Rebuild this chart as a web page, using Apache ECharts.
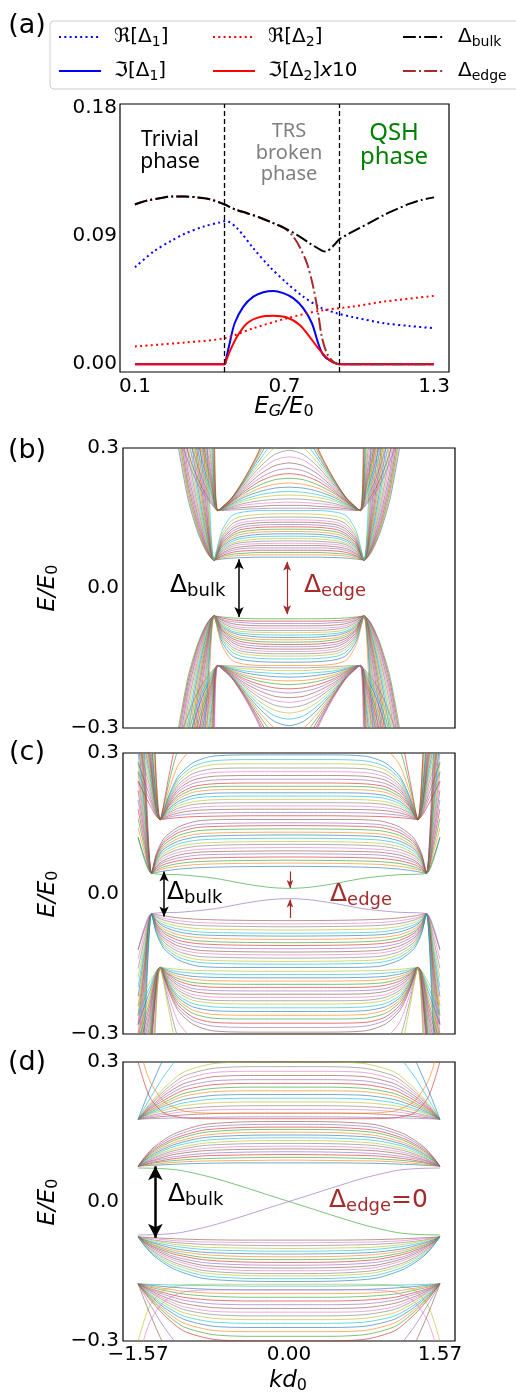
<!DOCTYPE html>
<html><head><meta charset="utf-8">
<script src="https://cdn.jsdelivr.net/npm/echarts@6/dist/echarts.min.js"></script>
<style>html,body{margin:0;padding:0;background:#fff}#c{width:516px;height:1395px}</style>
</head><body><div id="c"></div><script>
// ---------------- Panel (a) data ----------------
const xTicksA = [0.1, 0.7, 1.3];
const yTicksA = [0, 0.09, 0.18];
const phaseBoundaries = [0.46, 0.92];
const reDelta1 = [[0.1,0.068],[0.175,0.079],[0.25,0.087],[0.3,0.0915],[0.375,0.0965],[0.44,0.0994],[0.465,0.1005],[0.51,0.0953],[0.575,0.0813],[0.64,0.0684],[0.71,0.0568],[0.775,0.0474],[0.845,0.0397],[0.91,0.0357],[0.975,0.033],[1.1,0.0287],[1.2,0.0268],[1.3,0.0252]];
const imDelta1 = [[0.1,0],[0.46,0],[0.465,0.003],[0.48,0.0147],[0.5,0.0287],[0.535,0.0404],[0.575,0.0474],[0.615,0.0505],[0.655,0.0514],[0.695,0.0498],[0.735,0.0463],[0.775,0.0393],[0.81,0.0287],[0.835,0.0147],[0.855,0.0065],[0.885,0.0023],[0.92,0],[1.3,0]];
const reDelta2 = [[0.1,0.0124],[0.3,0.0152],[0.46,0.0182],[0.575,0.0252],[0.71,0.0322],[0.845,0.0376],[0.975,0.0404],[1.1,0.0439],[1.3,0.0479]];
const imDelta2x10 = [[0.1,0],[0.46,0],[0.465,0.002],[0.48,0.0088],[0.51,0.0194],[0.55,0.0287],[0.6,0.033],[0.655,0.034],[0.71,0.0327],[0.76,0.0276],[0.8,0.0194],[0.835,0.0112],[0.865,0.0053],[0.895,0.0012],[0.92,0],[1.3,0]];
const bulkGap = [[0.1,0.112],[0.15,0.1148],[0.2,0.1164],[0.25,0.1176],[0.3,0.1176],[0.35,0.117],[0.4,0.1157],[0.46,0.112],[0.5,0.1087],[0.55,0.1059],[0.6,0.1029],[0.65,0.0993],[0.7,0.0954],[0.75,0.0907],[0.8,0.0849],[0.85,0.0797],[0.865,0.079],[0.9,0.0837],[0.92,0.0876],[0.95,0.0907],[1.0,0.0954],[1.05,0.1],[1.1,0.1047],[1.15,0.1087],[1.2,0.1124],[1.25,0.1152],[1.3,0.117]];
const edgeGap = [[0.1,0.112],[0.15,0.1148],[0.2,0.1164],[0.25,0.1176],[0.3,0.1176],[0.35,0.117],[0.4,0.1157],[0.46,0.112],[0.5,0.1087],[0.55,0.1059],[0.6,0.1029],[0.65,0.0993],[0.7,0.0954],[0.735,0.0895],[0.76,0.0825],[0.79,0.0708],[0.815,0.0544],[0.835,0.0357],[0.85,0.019],[0.87,0.0077],[0.895,0.0018],[0.92,0],[1.0,0],[1.3,0]];

// ---------------- Band panels ----------------
const kTicks = [-1.57, 0, 1.57];
const eTicks = [-0.3, 0, 0.3];

// Panel (b): half curves (k >= 0), drawn mirrored in k
const kB1 = [0,0.3,0.5,0.6,0.7,0.78,0.86,0.95,1.05,1.15];
const condB1 = [
 [0.066,0.066,0.065,0.064,0.062,0.06,0.078,0.120,0.190,0.300],
 [0.071,0.071,0.070,0.068,0.064,0.06,0.080,0.125,0.200,0.315],
 [0.076,0.076,0.074,0.072,0.067,0.06,0.082,0.130,0.210,0.330],
 [0.081,0.081,0.079,0.076,0.069,0.06,0.085,0.138,0.222,0.350],
 [0.086,0.086,0.084,0.080,0.072,0.06,0.088,0.146,0.235,0.370],
 [0.091,0.091,0.088,0.084,0.074,0.06,0.091,0.155,0.250,0.395],
 [0.096,0.095,0.093,0.088,0.077,0.06,0.095,0.165,0.268,0.420],
 [0.101,0.100,0.097,0.092,0.079,0.06,0.099,0.176,0.288,0.450],
 [0.106,0.105,0.101,0.095,0.082,0.06,0.104,0.188,0.310,0.480],
 [0.111,0.110,0.106,0.099,0.084,0.06,0.110,0.202,0.335,0.500],
 [0.116,0.115,0.110,0.103,0.087,0.06,0.117,0.218,0.365,0.500],
 [0.121,0.120,0.115,0.107,0.089,0.06,0.125,0.236,0.400,0.500],
 [0.126,0.125,0.120,0.111,0.092,0.06,0.134,0.257,0.440,0.500],
 [0.131,0.130,0.125,0.115,0.095,0.06,0.145,0.282,0.490,0.500],
 [0.136,0.135,0.130,0.120,0.098,0.06,0.158,0.312,0.500,0.500],
 [0.141,0.140,0.135,0.125,0.101,0.06,0.173,0.350,0.500,0.500],
 [0.146,0.145,0.140,0.130,0.104,0.06,0.192,0.395,0.500,0.500],
 [0.152,0.151,0.146,0.136,0.108,0.06,0.217,0.450,0.500,0.500],
 [0.159,0.158,0.153,0.144,0.114,0.06,0.255,0.500,0.500,0.500],
 [0.166,0.166,0.162,0.154,0.121,0.06,0.320,0.500,0.500,0.500]];
const valB1 = [
 [-0.066,-0.066,-0.065,-0.064,-0.062,-0.06,-0.078,-0.120,-0.190,-0.300],
 [-0.071,-0.071,-0.070,-0.068,-0.064,-0.06,-0.080,-0.125,-0.200,-0.315],
 [-0.076,-0.076,-0.074,-0.072,-0.067,-0.06,-0.082,-0.130,-0.210,-0.330],
 [-0.081,-0.081,-0.079,-0.076,-0.069,-0.06,-0.085,-0.138,-0.222,-0.350],
 [-0.086,-0.086,-0.084,-0.080,-0.072,-0.06,-0.088,-0.146,-0.235,-0.370],
 [-0.091,-0.091,-0.088,-0.084,-0.074,-0.06,-0.091,-0.155,-0.250,-0.395],
 [-0.096,-0.095,-0.093,-0.088,-0.077,-0.06,-0.095,-0.165,-0.268,-0.420],
 [-0.101,-0.100,-0.097,-0.092,-0.079,-0.06,-0.099,-0.176,-0.288,-0.450],
 [-0.106,-0.105,-0.101,-0.095,-0.082,-0.06,-0.104,-0.188,-0.310,-0.480],
 [-0.111,-0.110,-0.106,-0.099,-0.084,-0.06,-0.110,-0.202,-0.335,-0.500],
 [-0.116,-0.115,-0.110,-0.103,-0.087,-0.06,-0.117,-0.218,-0.365,-0.500],
 [-0.121,-0.120,-0.115,-0.107,-0.089,-0.06,-0.125,-0.236,-0.400,-0.500],
 [-0.126,-0.125,-0.120,-0.111,-0.092,-0.06,-0.134,-0.257,-0.440,-0.500],
 [-0.131,-0.130,-0.125,-0.115,-0.095,-0.06,-0.145,-0.282,-0.490,-0.500],
 [-0.136,-0.135,-0.130,-0.120,-0.098,-0.06,-0.158,-0.312,-0.500,-0.500],
 [-0.141,-0.140,-0.135,-0.125,-0.101,-0.06,-0.173,-0.350,-0.500,-0.500],
 [-0.146,-0.145,-0.140,-0.130,-0.104,-0.06,-0.192,-0.395,-0.500,-0.500],
 [-0.152,-0.151,-0.146,-0.136,-0.108,-0.06,-0.217,-0.450,-0.500,-0.500],
 [-0.159,-0.158,-0.153,-0.144,-0.114,-0.06,-0.255,-0.500,-0.500,-0.500],
 [-0.166,-0.166,-0.162,-0.154,-0.121,-0.06,-0.320,-0.500,-0.500,-0.500]];
const kB2 = [0,0.15,0.3,0.45,0.6,0.74,0.8,0.9,1.0,1.1];
const condB2 = [
 [0.171,0.171,0.170,0.169,0.167,0.166,0.178,0.205,0.245,0.300],
 [0.177,0.177,0.175,0.173,0.170,0.166,0.181,0.213,0.260,0.325],
 [0.184,0.183,0.181,0.178,0.172,0.166,0.184,0.222,0.277,0.350],
 [0.191,0.190,0.187,0.182,0.174,0.166,0.188,0.232,0.295,0.378],
 [0.199,0.198,0.194,0.187,0.176,0.166,0.192,0.244,0.315,0.408],
 [0.207,0.205,0.200,0.191,0.178,0.166,0.196,0.256,0.337,0.440],
 [0.216,0.214,0.207,0.196,0.180,0.166,0.201,0.270,0.360,0.470],
 [0.225,0.222,0.214,0.200,0.182,0.166,0.206,0.284,0.385,0.500],
 [0.235,0.232,0.221,0.205,0.184,0.166,0.212,0.300,0.410,0.500],
 [0.245,0.241,0.229,0.209,0.185,0.166,0.218,0.316,0.440,0.500],
 [0.256,0.251,0.236,0.213,0.186,0.166,0.225,0.335,0.475,0.500],
 [0.268,0.262,0.244,0.217,0.187,0.166,0.233,0.358,0.500,0.500],
 [0.281,0.274,0.252,0.221,0.188,0.166,0.243,0.386,0.500,0.500],
 [0.295,0.286,0.260,0.225,0.189,0.166,0.255,0.420,0.500,0.500],
 [0.311,0.300,0.268,0.228,0.190,0.166,0.270,0.460,0.500,0.500],
 [0.330,0.316,0.276,0.231,0.191,0.166,0.290,0.500,0.500,0.500],
 [0.353,0.335,0.284,0.234,0.191,0.166,0.318,0.500,0.500,0.500],
 [0.382,0.358,0.291,0.236,0.192,0.166,0.355,0.500,0.500,0.500],
 [0.420,0.386,0.297,0.238,0.192,0.166,0.410,0.500,0.500,0.500],
 [0.470,0.420,0.301,0.240,0.192,0.166,0.480,0.500,0.500,0.500]];
const valB2 = [
 [-0.171,-0.171,-0.170,-0.169,-0.167,-0.166,-0.178,-0.205,-0.245,-0.300],
 [-0.177,-0.177,-0.175,-0.173,-0.170,-0.166,-0.181,-0.213,-0.260,-0.325],
 [-0.184,-0.183,-0.181,-0.178,-0.172,-0.166,-0.184,-0.222,-0.277,-0.350],
 [-0.191,-0.190,-0.187,-0.182,-0.174,-0.166,-0.188,-0.232,-0.295,-0.378],
 [-0.199,-0.198,-0.194,-0.187,-0.176,-0.166,-0.192,-0.244,-0.315,-0.408],
 [-0.207,-0.205,-0.200,-0.191,-0.178,-0.166,-0.196,-0.256,-0.337,-0.440],
 [-0.216,-0.214,-0.207,-0.196,-0.180,-0.166,-0.201,-0.270,-0.360,-0.470],
 [-0.225,-0.222,-0.214,-0.200,-0.182,-0.166,-0.206,-0.284,-0.385,-0.500],
 [-0.235,-0.232,-0.221,-0.205,-0.184,-0.166,-0.212,-0.300,-0.410,-0.500],
 [-0.245,-0.241,-0.229,-0.209,-0.185,-0.166,-0.218,-0.316,-0.440,-0.500],
 [-0.256,-0.251,-0.236,-0.213,-0.186,-0.166,-0.225,-0.335,-0.475,-0.500],
 [-0.268,-0.262,-0.244,-0.217,-0.187,-0.166,-0.233,-0.358,-0.500,-0.500],
 [-0.281,-0.274,-0.252,-0.221,-0.188,-0.166,-0.243,-0.386,-0.500,-0.500],
 [-0.295,-0.286,-0.260,-0.225,-0.189,-0.166,-0.255,-0.420,-0.500,-0.500],
 [-0.311,-0.300,-0.268,-0.228,-0.190,-0.166,-0.270,-0.460,-0.500,-0.500],
 [-0.330,-0.316,-0.276,-0.231,-0.191,-0.166,-0.290,-0.500,-0.500,-0.500],
 [-0.353,-0.335,-0.284,-0.234,-0.191,-0.166,-0.318,-0.500,-0.500,-0.500],
 [-0.382,-0.358,-0.291,-0.236,-0.192,-0.166,-0.355,-0.500,-0.500,-0.500],
 [-0.420,-0.386,-0.297,-0.238,-0.192,-0.166,-0.410,-0.500,-0.500,-0.500],
 [-0.470,-0.420,-0.301,-0.240,-0.192,-0.166,-0.480,-0.500,-0.500,-0.500]];

// Panel (c)
const kCe = [0,0.2,0.44,0.79,1.13,1.43,1.5,1.57];
const edgeCup = [0.011,0.013,0.020,0.033,0.040,0.043,0.070,0.120];
const edgeCdn = [-0.011,-0.013,-0.020,-0.033,-0.040,-0.043,-0.070,-0.120];
const kC1 = [0,0.6,0.95,1.15,1.3,1.38,1.43,1.5,1.57];
const condC1 = [
 [0.058,0.057,0.055,0.052,0.048,0.045,0.043,0.075,0.12],
 [0.065,0.064,0.062,0.058,0.053,0.048,0.043,0.085,0.14],
 [0.071,0.070,0.068,0.064,0.057,0.050,0.043,0.095,0.16],
 [0.078,0.077,0.075,0.070,0.062,0.053,0.043,0.105,0.18],
 [0.085,0.084,0.082,0.076,0.067,0.056,0.043,0.115,0.20],
 [0.091,0.090,0.088,0.082,0.071,0.058,0.043,0.125,0.22],
 [0.098,0.097,0.094,0.088,0.076,0.061,0.043,0.135,0.24],
 [0.105,0.104,0.101,0.094,0.081,0.064,0.043,0.145,0.26],
 [0.111,0.110,0.107,0.100,0.085,0.066,0.043,0.155,0.28],
 [0.118,0.117,0.114,0.106,0.090,0.069,0.043,0.168,0.30],
 [0.125,0.124,0.121,0.112,0.095,0.072,0.043,0.180,0.33],
 [0.131,0.130,0.127,0.118,0.099,0.074,0.043,0.195,0.36],
 [0.138,0.137,0.134,0.124,0.104,0.077,0.043,0.210,0.39],
 [0.145,0.144,0.141,0.130,0.109,0.080,0.043,0.228,0.42],
 [0.151,0.150,0.147,0.136,0.113,0.082,0.043,0.250,0.46],
 [0.158,0.158,0.155,0.142,0.118,0.085,0.043,0.280,0.50]];
const valC1 = [
 [-0.058,-0.057,-0.055,-0.052,-0.048,-0.045,-0.043,-0.075,-0.12],
 [-0.065,-0.064,-0.062,-0.058,-0.053,-0.048,-0.043,-0.085,-0.14],
 [-0.071,-0.070,-0.068,-0.064,-0.057,-0.050,-0.043,-0.095,-0.16],
 [-0.078,-0.077,-0.075,-0.070,-0.062,-0.053,-0.043,-0.105,-0.18],
 [-0.085,-0.084,-0.082,-0.076,-0.067,-0.056,-0.043,-0.115,-0.20],
 [-0.091,-0.090,-0.088,-0.082,-0.071,-0.058,-0.043,-0.125,-0.22],
 [-0.098,-0.097,-0.094,-0.088,-0.076,-0.061,-0.043,-0.135,-0.24],
 [-0.105,-0.104,-0.101,-0.094,-0.081,-0.064,-0.043,-0.145,-0.26],
 [-0.111,-0.110,-0.107,-0.100,-0.085,-0.066,-0.043,-0.155,-0.28],
 [-0.118,-0.117,-0.114,-0.106,-0.090,-0.069,-0.043,-0.168,-0.30],
 [-0.125,-0.124,-0.121,-0.112,-0.095,-0.072,-0.043,-0.180,-0.33],
 [-0.131,-0.130,-0.127,-0.118,-0.099,-0.074,-0.043,-0.195,-0.36],
 [-0.138,-0.137,-0.134,-0.124,-0.104,-0.077,-0.043,-0.210,-0.39],
 [-0.145,-0.144,-0.141,-0.130,-0.109,-0.080,-0.043,-0.228,-0.42],
 [-0.151,-0.150,-0.147,-0.136,-0.113,-0.082,-0.043,-0.250,-0.46],
 [-0.158,-0.158,-0.155,-0.142,-0.118,-0.085,-0.043,-0.280,-0.50]];
const kC2 = [0,0.4,0.8,1.0,1.15,1.25,1.34,1.45,1.57];
const condC2 = [
 [0.166,0.166,0.165,0.164,0.162,0.160,0.158,0.19,0.24],
 [0.173,0.173,0.172,0.170,0.167,0.163,0.158,0.20,0.26],
 [0.180,0.180,0.179,0.177,0.172,0.166,0.158,0.21,0.28],
 [0.187,0.187,0.186,0.183,0.177,0.169,0.158,0.22,0.30],
 [0.194,0.194,0.193,0.190,0.182,0.172,0.158,0.23,0.32],
 [0.201,0.201,0.200,0.196,0.187,0.174,0.158,0.24,0.34],
 [0.208,0.208,0.207,0.203,0.192,0.177,0.158,0.25,0.36],
 [0.215,0.215,0.214,0.209,0.197,0.180,0.158,0.26,0.38],
 [0.222,0.222,0.221,0.216,0.202,0.183,0.158,0.27,0.40],
 [0.229,0.229,0.228,0.222,0.207,0.186,0.158,0.28,0.42],
 [0.236,0.236,0.234,0.228,0.212,0.188,0.158,0.29,0.44],
 [0.244,0.244,0.242,0.235,0.218,0.191,0.158,0.30,0.46],
 [0.252,0.252,0.250,0.242,0.223,0.194,0.158,0.31,0.48],
 [0.260,0.260,0.258,0.249,0.228,0.197,0.158,0.32,0.50],
 [0.268,0.268,0.266,0.256,0.233,0.200,0.158,0.33,0.50],
 [0.277,0.277,0.275,0.264,0.239,0.203,0.158,0.34,0.50],
 [0.286,0.286,0.283,0.271,0.245,0.206,0.158,0.35,0.50],
 [0.296,0.296,0.293,0.279,0.251,0.209,0.158,0.36,0.50],
 [0.330,0.330,0.325,0.310,0.275,0.220,0.158,0.40,0.50],
 [0.400,0.400,0.390,0.360,0.310,0.235,0.158,0.45,0.50],
 [0.500,0.500,0.490,0.450,0.350,0.250,0.158,0.47,0.50]];
const valC2 = [
 [-0.166,-0.166,-0.165,-0.164,-0.162,-0.160,-0.158,-0.19,-0.24],
 [-0.173,-0.173,-0.172,-0.170,-0.167,-0.163,-0.158,-0.20,-0.26],
 [-0.180,-0.180,-0.179,-0.177,-0.172,-0.166,-0.158,-0.21,-0.28],
 [-0.187,-0.187,-0.186,-0.183,-0.177,-0.169,-0.158,-0.22,-0.30],
 [-0.194,-0.194,-0.193,-0.190,-0.182,-0.172,-0.158,-0.23,-0.32],
 [-0.201,-0.201,-0.200,-0.196,-0.187,-0.174,-0.158,-0.24,-0.34],
 [-0.208,-0.208,-0.207,-0.203,-0.192,-0.177,-0.158,-0.25,-0.36],
 [-0.215,-0.215,-0.214,-0.209,-0.197,-0.180,-0.158,-0.26,-0.38],
 [-0.222,-0.222,-0.221,-0.216,-0.202,-0.183,-0.158,-0.27,-0.40],
 [-0.229,-0.229,-0.228,-0.222,-0.207,-0.186,-0.158,-0.28,-0.42],
 [-0.236,-0.236,-0.234,-0.228,-0.212,-0.188,-0.158,-0.29,-0.44],
 [-0.244,-0.244,-0.242,-0.235,-0.218,-0.191,-0.158,-0.30,-0.46],
 [-0.252,-0.252,-0.250,-0.242,-0.223,-0.194,-0.158,-0.31,-0.48],
 [-0.260,-0.260,-0.258,-0.249,-0.228,-0.197,-0.158,-0.32,-0.50],
 [-0.268,-0.268,-0.266,-0.256,-0.233,-0.200,-0.158,-0.33,-0.50],
 [-0.277,-0.277,-0.275,-0.264,-0.239,-0.203,-0.158,-0.34,-0.50],
 [-0.286,-0.286,-0.283,-0.271,-0.245,-0.206,-0.158,-0.35,-0.50],
 [-0.296,-0.296,-0.293,-0.279,-0.251,-0.209,-0.158,-0.36,-0.50],
 [-0.330,-0.330,-0.325,-0.310,-0.275,-0.220,-0.158,-0.40,-0.50],
 [-0.400,-0.400,-0.390,-0.360,-0.310,-0.235,-0.158,-0.45,-0.50],
 [-0.500,-0.500,-0.490,-0.450,-0.350,-0.250,-0.158,-0.47,-0.50]];

// Panel (d)
const kDe = [-1.57,-1.35,-1.13,-0.79,-0.44,-0.2,0,0.2,0.44,0.79,1.13,1.35,1.57];
const edgeDa = [0.072,0.071,0.067,0.051,0.029,0.013,0,-0.013,-0.029,-0.051,-0.067,-0.071,-0.072];
const edgeDb = [-0.072,-0.071,-0.067,-0.051,-0.029,-0.013,0,0.013,0.029,0.051,0.067,0.071,0.072];
const kD1 = [0,0.5,0.9,1.2,1.4,1.5,1.57];
const condD1 = [
 [0.083,0.083,0.082,0.080,0.078,0.077,0.076],
 [0.089,0.088,0.087,0.084,0.080,0.078,0.076],
 [0.095,0.094,0.092,0.088,0.083,0.079,0.076],
 [0.101,0.100,0.098,0.092,0.085,0.080,0.076],
 [0.107,0.106,0.103,0.096,0.088,0.082,0.076],
 [0.113,0.112,0.109,0.101,0.090,0.083,0.076],
 [0.119,0.118,0.114,0.105,0.093,0.084,0.076],
 [0.125,0.124,0.120,0.109,0.095,0.085,0.076],
 [0.131,0.130,0.125,0.113,0.098,0.087,0.076],
 [0.137,0.136,0.131,0.118,0.100,0.088,0.076],
 [0.143,0.142,0.137,0.122,0.103,0.089,0.076],
 [0.149,0.148,0.142,0.126,0.106,0.091,0.076],
 [0.155,0.154,0.148,0.131,0.109,0.092,0.076],
 [0.160,0.159,0.153,0.135,0.112,0.093,0.076],
 [0.166,0.165,0.159,0.140,0.115,0.095,0.076],
 [0.172,0.171,0.165,0.145,0.118,0.096,0.076]];
const valD1 = [
 [-0.083,-0.083,-0.082,-0.080,-0.078,-0.077,-0.076],
 [-0.089,-0.088,-0.087,-0.084,-0.080,-0.078,-0.076],
 [-0.095,-0.094,-0.092,-0.088,-0.083,-0.079,-0.076],
 [-0.101,-0.100,-0.098,-0.092,-0.085,-0.080,-0.076],
 [-0.107,-0.106,-0.103,-0.096,-0.088,-0.082,-0.076],
 [-0.113,-0.112,-0.109,-0.101,-0.090,-0.083,-0.076],
 [-0.119,-0.118,-0.114,-0.105,-0.093,-0.084,-0.076],
 [-0.125,-0.124,-0.120,-0.109,-0.095,-0.085,-0.076],
 [-0.131,-0.130,-0.125,-0.113,-0.098,-0.087,-0.076],
 [-0.137,-0.136,-0.131,-0.118,-0.100,-0.088,-0.076],
 [-0.143,-0.142,-0.137,-0.122,-0.103,-0.089,-0.076],
 [-0.149,-0.148,-0.142,-0.126,-0.106,-0.091,-0.076],
 [-0.155,-0.154,-0.148,-0.131,-0.109,-0.092,-0.076],
 [-0.160,-0.159,-0.153,-0.135,-0.112,-0.093,-0.076],
 [-0.166,-0.165,-0.159,-0.140,-0.115,-0.095,-0.076],
 [-0.172,-0.171,-0.165,-0.145,-0.118,-0.096,-0.076]];
const kD2 = [0,0.4,0.8,1.1,1.3,1.45,1.57];
const condD2 = [
 [0.178,0.178,0.178,0.180,0.190,0.225,0.300],
 [0.182,0.182,0.181,0.180,0.179,0.178,0.177],
 [0.190,0.190,0.189,0.186,0.183,0.180,0.177],
 [0.198,0.198,0.197,0.193,0.187,0.182,0.177],
 [0.206,0.206,0.204,0.199,0.191,0.184,0.177],
 [0.214,0.214,0.212,0.206,0.196,0.187,0.177],
 [0.222,0.222,0.220,0.212,0.200,0.189,0.177],
 [0.230,0.230,0.228,0.219,0.205,0.191,0.177],
 [0.238,0.238,0.236,0.226,0.209,0.193,0.177],
 [0.246,0.246,0.243,0.232,0.213,0.195,0.177],
 [0.254,0.254,0.251,0.239,0.218,0.198,0.177],
 [0.262,0.262,0.259,0.246,0.223,0.200,0.177],
 [0.271,0.271,0.268,0.253,0.228,0.202,0.177],
 [0.280,0.280,0.277,0.261,0.233,0.205,0.177],
 [0.290,0.290,0.286,0.269,0.238,0.207,0.177],
 [0.300,0.300,0.296,0.278,0.244,0.210,0.177],
 [0.360,0.360,0.350,0.320,0.270,0.220,0.177],
 [0.450,0.450,0.440,0.390,0.310,0.240,0.177],
 [0.190,0.190,0.190,0.195,0.215,0.260,0.340]];
const valD2 = [
 [-0.178,-0.178,-0.178,-0.180,-0.190,-0.225,-0.300],
 [-0.182,-0.182,-0.181,-0.180,-0.179,-0.178,-0.177],
 [-0.190,-0.190,-0.189,-0.186,-0.183,-0.180,-0.177],
 [-0.198,-0.198,-0.197,-0.193,-0.187,-0.182,-0.177],
 [-0.206,-0.206,-0.204,-0.199,-0.191,-0.184,-0.177],
 [-0.214,-0.214,-0.212,-0.206,-0.196,-0.187,-0.177],
 [-0.222,-0.222,-0.220,-0.212,-0.200,-0.189,-0.177],
 [-0.230,-0.230,-0.228,-0.219,-0.205,-0.191,-0.177],
 [-0.238,-0.238,-0.236,-0.226,-0.209,-0.193,-0.177],
 [-0.246,-0.246,-0.243,-0.232,-0.213,-0.195,-0.177],
 [-0.254,-0.254,-0.251,-0.239,-0.218,-0.198,-0.177],
 [-0.262,-0.262,-0.259,-0.246,-0.223,-0.200,-0.177],
 [-0.271,-0.271,-0.268,-0.253,-0.228,-0.202,-0.177],
 [-0.280,-0.280,-0.277,-0.261,-0.233,-0.205,-0.177],
 [-0.290,-0.290,-0.286,-0.269,-0.238,-0.207,-0.177],
 [-0.300,-0.300,-0.296,-0.278,-0.244,-0.210,-0.177],
 [-0.360,-0.360,-0.350,-0.320,-0.270,-0.220,-0.177],
 [-0.450,-0.450,-0.440,-0.390,-0.310,-0.240,-0.177],
 [-0.190,-0.190,-0.190,-0.195,-0.215,-0.260,-0.340]];

// ---------------- Build ----------------
const TAB = ['#1f77b4','#ff7f0e','#2ca02c','#d62728','#9467bd','#8c564b','#e377c2','#7f7f7f','#bcbd22','#17becf'];
const FONT = 'DejaVu Sans';
const chart = echarts.init(document.getElementById('c'), null, {renderer:'canvas'});

function mirrorHalf(ks, es){
  const out=[];
  for(let i=ks.length-1;i>0;i--) out.push([-ks[i], es[i]]);
  for(let i=0;i<ks.length;i++) out.push([ks[i], es[i]]);
  return out;
}
function zipK(ks, es){ return ks.map((k,i)=>[k, es[i]]); }

const series = [];
function band(g, pts, ci){
  series.push({type:'line', xAxisIndex:g, yAxisIndex:g, data:pts, symbol:'none', smooth:0.25,
    silent:true, animation:false, z:2,
    lineStyle:{width:0.7, color:TAB[ci%10], opacity:0.9}});
}
function family(g, ks, list, start){ list.forEach((es,i)=>band(g, mirrorHalf(ks, es), start+i)); }

// panel (a)
const dotted=[2,3.3], dashdot=[12.8,3.2,2,3.2];
function aLine(name, data, color, type){
  series.push({name, type:'line', xAxisIndex:0, yAxisIndex:0, data, symbol:'none', smooth:0.3,
    animation:false, lineStyle:{color, width:2, type, cap:'butt'}, itemStyle:{color}});
}
aLine('Re1', reDelta1, '#0000ff', dotted);
aLine('Im1', imDelta1, '#0000ff', 'solid');
aLine('Re2', reDelta2, '#ff0000', dotted);
aLine('Im2', imDelta2x10, '#ff0000', 'solid');
aLine('edge', edgeGap, '#a52a2a', dashdot);
aLine('bulk', bulkGap, '#000000', dashdot);
series.push({type:'line', xAxisIndex:0, yAxisIndex:0, data:[], symbol:'none',
  markLine:{silent:true, symbol:'none', label:{show:false}, animation:false,
    lineStyle:{color:'#000', type:[5,3], width:1.3},
    data: phaseBoundaries.map(v=>({xAxis:v}))}});

// panel (b)
family(1, kB1, condB1, 0); family(1, kB2, condB2, 4);
family(1, kB1, valB1, 2); family(1, kB2, valB2, 7);
// panel (c)
family(2, kC1, condC1, 0); family(2, kC2, condC2, 3);
family(2, kC1, valC1, 5); family(2, kC2, valC2, 8);
band(2, mirrorHalf(kCe, edgeCup), 2); band(2, mirrorHalf(kCe, edgeCdn), 4);
// panel (d)
family(3, kD1, condD1, 0); family(3, kD2, condD2, 3);
family(3, kD1, valD1, 5); family(3, kD2, valD2, 8);
band(3, zipK(kDe, edgeDa), 2); band(3, zipK(kDe, edgeDb), 4);

// arrows
function arrows(g, items){
  series.push({type:'line', xAxisIndex:g, yAxisIndex:g, data:[[0,0]], symbol:'none', lineStyle:{width:0}, z:5,
    markLine:{silent:true, animation:false, label:{show:false}, data:items}});
}
const BR = '#a52a2a';
arrows(1, [
  [{coord:[-0.52,0.0615], symbol:'arrow', symbolSize:[7,10], lineStyle:{color:'#000',width:1.5,type:'solid'}},{coord:[-0.52,-0.062], symbol:'arrow', symbolSize:[7,10]}],
  [{coord:[-0.02,0.056], symbol:'arrow', symbolSize:[6,9], lineStyle:{color:BR,width:1.2,type:'solid'}},{coord:[-0.02,-0.056], symbol:'arrow', symbolSize:[6,9]}]
]);
arrows(2, [
  [{coord:[-1.30,0.047], symbol:'arrow', symbolSize:[7,10], lineStyle:{color:'#000',width:1.5,type:'solid'}},{coord:[-1.30,-0.049], symbol:'arrow', symbolSize:[7,10]}],
  [{coord:[0.01,0.047], symbol:'none', lineStyle:{color:BR,width:1.2,type:'solid'}},{coord:[0.01,0.012], symbol:'arrow', symbolSize:[5,8]}],
  [{coord:[0.01,-0.052], symbol:'none', lineStyle:{color:BR,width:1.2,type:'solid'}},{coord:[0.01,-0.013], symbol:'arrow', symbolSize:[5,8]}]
]);
arrows(3, [
  [{coord:[-1.39,0.0757], symbol:'arrow', symbolSize:[11,14], lineStyle:{color:'#000',width:2.5,type:'solid'}},{coord:[-1.39,-0.078], symbol:'arrow', symbolSize:[11,14]}]
]);

// axes
const grids = [
  {left:120, top:104, width:329, height:268},
  {left:123, top:448, width:332, height:280},
  {left:123, top:753, width:332, height:281},
  {left:123, top:1062, width:332, height:279}
].map(g=>Object.assign(g,{show:true, borderColor:'#000', borderWidth:1.2, backgroundColor:'transparent'}));
const minusFmt = d => v => (v<0?'\u2212':'') + Math.abs(v).toFixed(d);
const lbl = {fontSize:20, color:'#000', fontFamily:FONT};
const noAxis = {axisLine:{show:false}, axisTick:{show:false}, splitLine:{show:false}};
const xAxes = [
  Object.assign({gridIndex:0, type:'value', min:0.04, max:1.36,
   axisLabel:Object.assign({customValues:xTicksA, formatter:v=>v.toFixed(1), margin:5}, lbl)}, noAxis),
  Object.assign({gridIndex:1, type:'value', min:-1.727, max:1.727, axisLabel:{show:false}}, noAxis),
  Object.assign({gridIndex:2, type:'value', min:-1.727, max:1.727, axisLabel:{show:false}}, noAxis),
  Object.assign({gridIndex:3, type:'value', min:-1.727, max:1.727,
   axisLabel:Object.assign({customValues:kTicks, formatter:minusFmt(2), margin:4}, lbl)}, noAxis)
];
const yAxes = [
  Object.assign({gridIndex:0, type:'value', min:-0.0055, max:0.1825,
   axisLabel:Object.assign({customValues:yTicksA, formatter:v=>v.toFixed(2), margin:3}, lbl)}, noAxis)
];
for(let g=1; g<=3; g++) yAxes.push(Object.assign({gridIndex:g, type:'value', min:-0.3, max:0.3,
   axisLabel:Object.assign({customValues:eTicks, formatter:minusFmt(1), margin:4}, lbl)}, noAxis));

// legend
const legendText = {
  Re1:'{t|\u211C[\u0394}{s|1}{t|]}', Im1:'{t|\u2111[\u0394}{s|1}{t|]}',
  Re2:'{t|\u211C[\u0394}{s|2}{t|]}', Im2:'{t|\u2111[\u0394}{s|2}{t|]}{i|x}{t|10}',
  bulk:'{t|\u0394}{s|bulk}', edge:'{t|\u0394}{s|edge}'
};
const legRich = {
  t:{fontSize:20, fontFamily:FONT, color:'#000', lineHeight:24, verticalAlign:'middle'},
  s:{fontSize:14, fontFamily:FONT, color:'#000', lineHeight:12, verticalAlign:'bottom'},
  i:{fontSize:20, fontFamily:FONT, fontStyle:'italic', color:'#000', lineHeight:24, verticalAlign:'middle'}
};
function leg(left, names){
  return {orient:'vertical', left, top:27, padding:0, itemWidth:42, itemHeight:14, itemGap:12,
    selectedMode:false, data:names, formatter:n=>legendText[n], itemStyle:{opacity:0},
    textStyle:{rich:legRich, padding:[0,0,0,8]}};
}

// texts
function sub(main, s, color, f1, f2){
  return {text:'{a|'+main+'}{b|'+s+'}', rich:{
    a:{fontSize:f1, fontFamily:FONT, fill:color, lineHeight:f1+6, verticalAlign:'middle'},
    b:{fontSize:f2, fontFamily:FONT, fill:color, lineHeight:f2, verticalAlign:'bottom'}}};
}
function txt(x,y,style,extra){ return Object.assign({type:'text', x, y, z:10, style}, extra||{}); }
const italicRich = {
  i:{fontSize:23, fontFamily:FONT, fontStyle:'italic', fill:'#000', lineHeight:26, verticalAlign:'middle'},
  s:{fontSize:16, fontFamily:FONT, fill:'#000', lineHeight:14, verticalAlign:'bottom'},
  si:{fontSize:16, fontFamily:FONT, fontStyle:'italic', fill:'#000', lineHeight:14, verticalAlign:'bottom'}
};
const graphics = [
  {type:'rect', shape:{x:50,y:21,width:480,height:68,r:4}, style:{fill:'#fff', stroke:'#cccccc', lineWidth:1}, z:-1},
  txt(27,26,{text:'(a)', font:'27px "DejaVu Sans"', fill:'#000', align:'center', verticalAlign:'middle'}),
  txt(27,451,{text:'(b)', font:'27px "DejaVu Sans"', fill:'#000', align:'center', verticalAlign:'middle'}),
  txt(27,753,{text:'(c)', font:'27px "DejaVu Sans"', fill:'#000', align:'center', verticalAlign:'middle'}),
  txt(27,1063,{text:'(d)', font:'27px "DejaVu Sans"', fill:'#000', align:'center', verticalAlign:'middle'}),
  txt(170,151,{text:'Trivial\nphase', font:'21px "Noto Sans"', lineHeight:22, fill:'#000', align:'center', verticalAlign:'middle'}),
  txt(289,153,{text:'TRS\nbroken\nphase', font:'20px "Noto Sans"', lineHeight:21.5, fill:'#808080', align:'center', verticalAlign:'middle'}),
  txt(394,145,{text:'QSH\nphase', font:'24px "Noto Sans"', lineHeight:24, fill:'#008000', align:'center', verticalAlign:'middle'}),
  txt(284,407,{text:'{i|E}{si|G}{i|/E}{s|0}', align:'center', verticalAlign:'middle', rich:italicRich}),
  txt(288,1381,{text:'{i|kd}{s|0}', align:'center', verticalAlign:'middle', rich:italicRich}),
  txt(170,585,Object.assign(sub('\u0394','bulk','#000',25,18),{align:'left', verticalAlign:'middle'})),
  txt(304,585,Object.assign(sub('\u0394','edge',BR,25,18),{align:'left', verticalAlign:'middle'})),
  txt(167,892,Object.assign(sub('\u0394','bulk','#000',25,18),{align:'left', verticalAlign:'middle'})),
  txt(330,894,Object.assign(sub('\u0394','edge',BR,25,18),{align:'left', verticalAlign:'middle'})),
  txt(168,1194,Object.assign(sub('\u0394','bulk','#000',25,18),{align:'left', verticalAlign:'middle'})),
  txt(329,1200,{text:'{a|\u0394}{b|edge}{a|=0}', align:'left', verticalAlign:'middle', rich:{
     a:{fontSize:25, fontFamily:FONT, fill:BR, lineHeight:31, verticalAlign:'middle'},
     b:{fontSize:18, fontFamily:FONT, fill:BR, lineHeight:18, verticalAlign:'bottom'}}})
];
[588, 894, 1202].forEach(y=>{
  graphics.push(txt(48,y,{text:'{i|E/E}{s|0}', align:'center', verticalAlign:'middle', rich:italicRich}, {rotation:Math.PI/2}));
});

chart.setOption({
  animation:false,
  backgroundColor:'#fff',
  grid:grids, xAxis:xAxes, yAxis:yAxes,
  legend:[leg(58,['Re1','Im1']), leg(212,['Re2','Im2']), leg(402,['bulk','edge'])],
  series, graphic:graphics
});
</script></body></html>
